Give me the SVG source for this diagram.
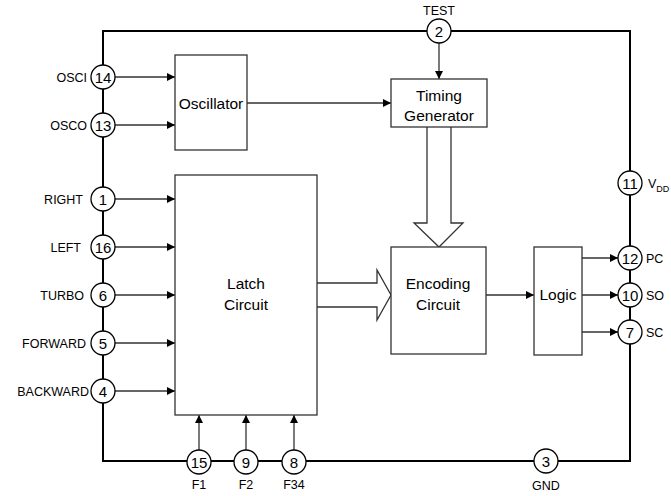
<svg xmlns="http://www.w3.org/2000/svg" width="671" height="496" viewBox="0 0 671 496">
<style>
.border{fill:none;stroke:#000;stroke-width:2}
.box{fill:#fff;stroke:#333;stroke-width:1.3}
.wire{fill:none;stroke:#333;stroke-width:1.3}
.pin circle{fill:#fff;stroke:#000;stroke-width:1.3}
.num{font-family:"Liberation Sans",Arial,sans-serif;font-size:15px;text-anchor:middle;fill:#000}
.lbl{font-family:"Liberation Sans",Arial,sans-serif;font-size:12.5px;fill:#000}
.blbl{font-family:"Liberation Sans",Arial,sans-serif;font-size:15.5px;text-anchor:middle;fill:#000}
.fat{fill:#fff;stroke:#333;stroke-width:1.3}
</style>
<defs>
<marker id="ah" viewBox="0 0 10 10" refX="10" refY="5" markerWidth="9" markerHeight="8" markerUnits="userSpaceOnUse" orient="auto">
<path d="M0,0 L10,5 L0,10 Z" fill="#000"/>
</marker>
</defs>
<rect class="border" x="103" y="31" width="527" height="430"/>
<g id="connectors">
<line class="wire" x1="115" y1="77" x2="175" y2="77" marker-end="url(#ah)"/>
<line class="wire" x1="115" y1="125" x2="175" y2="125" marker-end="url(#ah)"/>
<line class="wire" x1="247" y1="103" x2="391" y2="103" marker-end="url(#ah)"/>
<line class="wire" x1="439" y1="43" x2="439" y2="79" marker-end="url(#ah)"/>
<line class="wire" x1="115" y1="199" x2="175" y2="199" marker-end="url(#ah)"/>
<line class="wire" x1="115" y1="247" x2="175" y2="247" marker-end="url(#ah)"/>
<line class="wire" x1="115" y1="295" x2="175" y2="295" marker-end="url(#ah)"/>
<line class="wire" x1="115" y1="343" x2="175" y2="343" marker-end="url(#ah)"/>
<line class="wire" x1="115" y1="391" x2="175" y2="391" marker-end="url(#ah)"/>
<line class="wire" x1="199" y1="450" x2="199" y2="415" marker-end="url(#ah)"/>
<line class="wire" x1="246" y1="450" x2="246" y2="415" marker-end="url(#ah)"/>
<line class="wire" x1="294" y1="450" x2="294" y2="415" marker-end="url(#ah)"/>
<line class="wire" x1="486" y1="295" x2="534" y2="295" marker-end="url(#ah)"/>
<line class="wire" x1="582" y1="258" x2="618" y2="258" marker-end="url(#ah)"/>
<line class="wire" x1="582" y1="295" x2="618" y2="295" marker-end="url(#ah)"/>
<line class="wire" x1="582" y1="332" x2="618" y2="332" marker-end="url(#ah)"/>
<path class="fat" d="M427,127 L427,223 L414,223 L439,247 L463,223 L451,223 L451,127"/>
<path class="fat" d="M317,283 L377,283 L377,270 L391,295 L377,320 L377,307 L317,307"/>
</g>
<g id="oscillator"><rect class="box" x="175" y="55" width="72" height="95"/><text class="blbl" x="211" y="108.5">Oscillator</text></g>
<g id="timing"><rect class="box" x="391" y="79" width="96" height="48"/><text class="blbl" x="439" y="101">Timing</text><text class="blbl" x="439" y="121">Generator</text></g>
<g id="latch"><rect class="box" x="175" y="175" width="142" height="240"/><text class="blbl" x="246" y="289">Latch</text><text class="blbl" x="246" y="310">Circuit</text></g>
<g id="encoding"><rect class="box" x="391" y="247" width="95" height="107"/><text class="blbl" x="438" y="289">Encoding</text><text class="blbl" x="438" y="310">Circuit</text></g>
<g id="logic"><rect class="box" x="534" y="247" width="48" height="108"/><text class="blbl" x="558" y="300">Logic</text></g>
<g id="pin14" class="pin"><circle cx="103" cy="77" r="12"/><text class="num" x="103" y="82.5">14</text><text class="lbl" x="87" y="82" text-anchor="end">OSCI</text></g>
<g id="pin13" class="pin"><circle cx="103" cy="125" r="12"/><text class="num" x="103" y="130.5">13</text><text class="lbl" x="87" y="130" text-anchor="end">OSCO</text></g>
<g id="pin2" class="pin"><circle cx="439" cy="31" r="12"/><text class="num" x="439" y="36.5">2</text><text class="lbl" x="439" y="15" text-anchor="middle">TEST</text></g>
<g id="pin1" class="pin"><circle cx="103" cy="199" r="12"/><text class="num" x="103" y="204.5">1</text><text class="lbl" x="83" y="204" text-anchor="end">RIGHT</text></g>
<g id="pin16" class="pin"><circle cx="103" cy="247" r="12"/><text class="num" x="103" y="252.5">16</text><text class="lbl" x="81" y="252" text-anchor="end">LEFT</text></g>
<g id="pin6" class="pin"><circle cx="103" cy="295" r="12"/><text class="num" x="103" y="300.5">6</text><text class="lbl" x="84" y="300" text-anchor="end">TURBO</text></g>
<g id="pin5" class="pin"><circle cx="103" cy="343" r="12"/><text class="num" x="103" y="348.5">5</text><text class="lbl" x="86" y="348" text-anchor="end">FORWARD</text></g>
<g id="pin4" class="pin"><circle cx="103" cy="391" r="12"/><text class="num" x="103" y="396.5">4</text><text class="lbl" x="89" y="396" text-anchor="end">BACKWARD</text></g>
<g id="pin15" class="pin"><circle cx="199" cy="462" r="12"/><text class="num" x="199" y="467.5">15</text><text class="lbl" x="199" y="489" text-anchor="middle">F1</text></g>
<g id="pin9" class="pin"><circle cx="246" cy="462" r="12"/><text class="num" x="246" y="467.5">9</text><text class="lbl" x="246" y="489" text-anchor="middle">F2</text></g>
<g id="pin8" class="pin"><circle cx="294" cy="462" r="12"/><text class="num" x="294" y="467.5">8</text><text class="lbl" x="294" y="489" text-anchor="middle">F34</text></g>
<g id="pin3" class="pin"><circle cx="546" cy="461" r="12"/><text class="num" x="546" y="466.5">3</text><text class="lbl" x="546" y="490" text-anchor="middle">GND</text></g>
<g id="pin11" class="pin"><circle cx="630" cy="183" r="12"/><text class="num" x="630" y="188.5">11</text><text class="lbl" x="648" y="188" font-size="14">V<tspan font-size="9" dy="4">DD</tspan></text></g>
<g id="pin12" class="pin"><circle cx="630" cy="258" r="12"/><text class="num" x="630" y="263.5">12</text><text class="lbl" x="646" y="263">PC</text></g>
<g id="pin10" class="pin"><circle cx="630" cy="295" r="12"/><text class="num" x="630" y="300.5">10</text><text class="lbl" x="646" y="300">SO</text></g>
<g id="pin7" class="pin"><circle cx="630" cy="332" r="12"/><text class="num" x="630" y="337.5">7</text><text class="lbl" x="646" y="337">SC</text></g>
</svg>
